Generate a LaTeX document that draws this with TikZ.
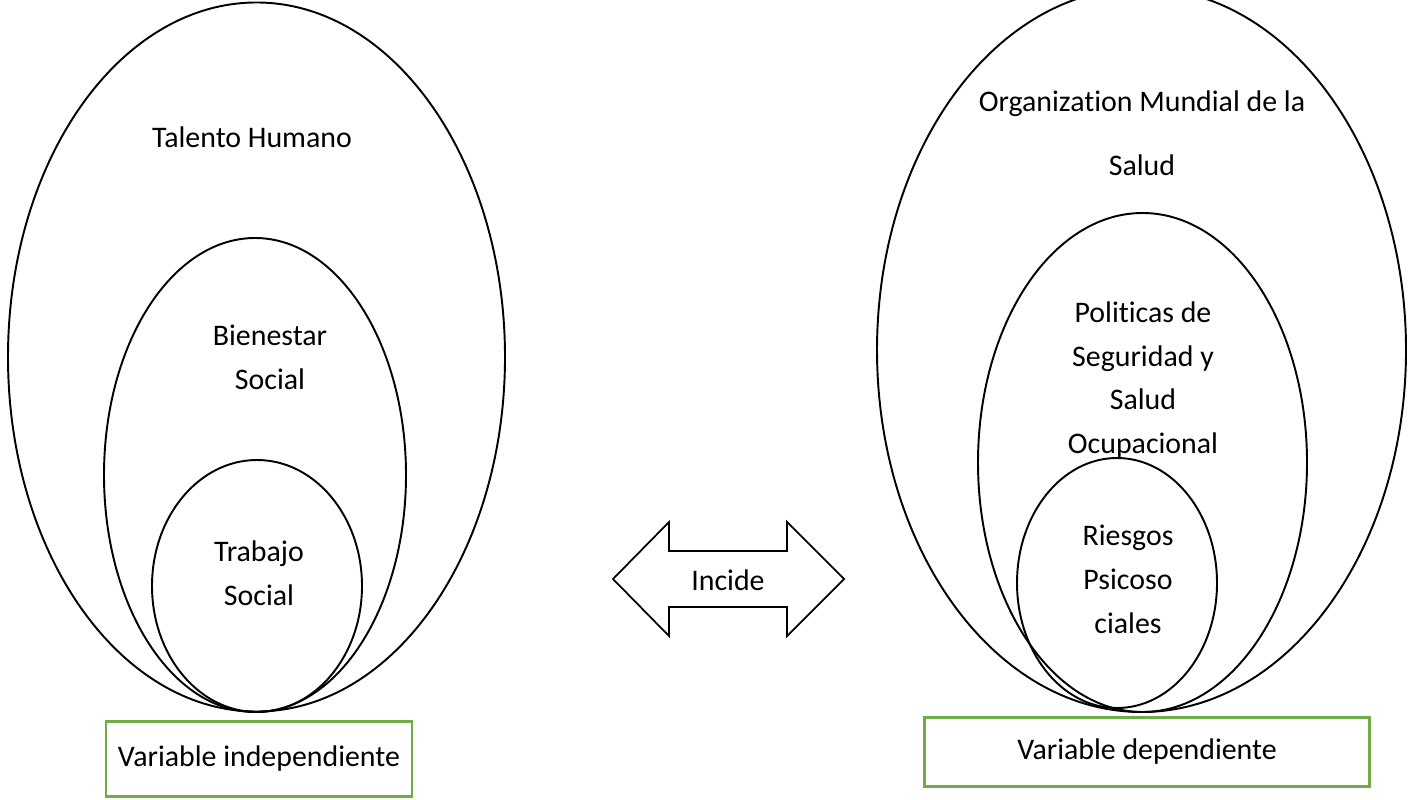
\documentclass[tikz,border=0pt]{standalone}
\usepackage{fontspec}
\setmainfont{Carlito}[Ligatures=NoCommon]
\usetikzlibrary{positioning}
\definecolor{boxgreen}{RGB}{112,173,71}

\begin{document}
\begin{tikzpicture}[x=0.02cm, y=-0.02cm, line width=1.1pt,
    lbl/.style={align=center, inner sep=0pt, font=\fontsize{17}{25}\selectfont},
    varbox/.style={draw=boxgreen, line width=1.4pt, inner sep=0pt, font=\fontsize{17}{25}\selectfont}]
    \useasboundingbox (0,0) rectangle (1408,800);

    % Left: independent variable
    \draw (256.5,357) ellipse [x radius=248.5, y radius=354.5];
    \draw (255,475) ellipse [x radius=151, y radius=237];
    \draw (257,586) ellipse [x radius=105, y radius=126];
    \node[lbl] (talento) at (252,137) {Talento Humano};
    \node[lbl] (bienestar) at (270,357) {Bienestar\\Social};
    \node[lbl] (trabajo) at (259,573) {Trabajo\\Social};
    \node[varbox, minimum width=6.12cm, minimum height=1.5cm] (indep) at (259,759) {Variable independiente};

    % Right: dependent variable
    \draw (1141.5,350) ellipse [x radius=264.5, y radius=362];
    \draw (1142.5,462.5) ellipse [x radius=164.5, y radius=249.5];
    \draw (1117,583) ellipse [x radius=100, y radius=125];
    \node[lbl] (oms) at (1142,133) {Organization Mundial de la\\[0.4cm]Salud};
    \node[lbl] (politicas) at (1143,380) {Politicas de\\Seguridad y\\Salud\\Ocupacional};
    \node[lbl] (riesgos) at (1128,579) {Riesgos\\Psicoso\\ciales};
    \node[varbox, minimum width=8.9cm, minimum height=1.38cm] (dep) at (1147,752) {Variable dependiente};

    % Double arrow between both
    \draw[line width=1pt, line join=miter] (613,579) -- (669,522) -- (669,551) -- (787,551) -- (787,522)
        -- (844,579) -- (787,636) -- (787,607) -- (669,607) -- (669,636) -- cycle;
    \node[lbl] (incide) at (728,580) {Incide};
\end{tikzpicture}
\end{document}
